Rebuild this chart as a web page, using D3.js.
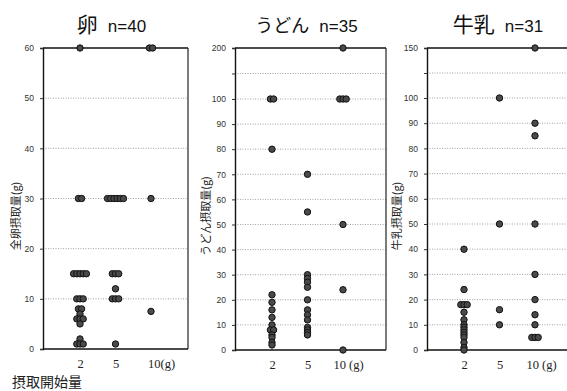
<!DOCTYPE html>
<html>
<head>
<meta charset="utf-8">
<script src="https://cdn.jsdelivr.net/npm/d3@7"></script>
<style>
  body { margin: 0; background: #fff; }
  svg { font-family: "Noto Sans CJK JP", "Noto Sans", sans-serif; }
</style>
</head>
<body>
<svg id="chart" width="567" height="391"></svg>
<script>
const categories = ["2", "5", "10"];

// 卵 n=40
const eggValues = [
  [60, 30, 30, 15, 15, 15, 15, 15, 10, 10, 10, 8, 8, 7, 6, 6, 6, 5, 2, 1, 1, 1],
  [30, 30, 30, 30, 30, 30, 15, 15, 15, 12, 10, 10, 10, 1],
  [60, 60, 30, 7.5]
];
const eggTicks = [0, 10, 20, 30, 40, 50, 60];

// うどん n=35
const udonValues = [
  [100, 100, 80, 22, 19, 16, 13, 10, 8, 8, 6, 5, 3, 2],
  [70, 55, 30, 28.5, 27, 25, 20, 16, 14, 12, 9, 8, 7, 6],
  [200, 100, 100, 100, 50, 24, 0]
];
const udonTicks = [0, 10, 20, 30, 40, 50, 60, 70, 80, 90, 100, 150, 200];

// 牛乳 n=31
const milkValues = [
  [40, 24, 18, 18, 18, 15, 12, 10, 9, 8, 7, 6, 5, 3, 1, 0],
  [100, 50, 16, 10],
  [150, 90, 85, 50, 30, 20, 14, 10, 5, 5, 5]
];
const milkTicks = [0, 10, 20, 30, 40, 50, 60, 70, 80, 90, 100, 125, 150];

const svg = d3.select("#chart");

const panels = [
  { title: "卵", titleSize: 21, n: "n=40", values: eggValues, ticks: eggTicks, hidden: [],
    domain: [0, 60], range: [349, 48], left: 43, width: 145,
    ylabel: "全卵摂取量(g)", ylabelX: 16, lastLabel: "10(g)", lastDx: 10 },
  { title: "うどん", titleSize: 18, n: "n=35", values: udonValues, ticks: udonTicks, hidden: [150],
    domain: [0, 100, 200], range: [350, 99, 48], left: 235, width: 151,
    ylabel: "うどん摂取量(g)", ylabelX: 206, lastLabel: "10 (g)", lastDx: 5 },
  { title: "牛乳", titleSize: 21, n: "n=31", values: milkValues, ticks: milkTicks, hidden: [125],
    domain: [0, 100, 150], range: [350, 98, 48], left: 427, width: 150,
    ylabel: "牛乳摂取量(g)", ylabelX: 397, lastLabel: "10 (g)", lastDx: 6 }
];

panels.forEach(p => {
  const right = p.left + p.width;
  const y = d3.scaleLinear().domain(p.domain).range(p.range);
  const x = d3.scalePoint().domain(categories).range([p.left + 37, p.left + 108]);
  const yTop = y(p.domain[p.domain.length - 1]);
  const yBottom = y(0);
  const g = svg.append("g");

  // grid
  g.append("g").selectAll("line")
    .data(p.ticks.filter(t => t > 0 && t < p.domain[p.domain.length - 1]))
    .join("line")
    .attr("x1", p.left).attr("x2", right)
    .attr("y1", d => y(d)).attr("y2", d => y(d))
    .attr("stroke", "#8a8a8a")
    .attr("stroke-width", 0.8)
    .attr("stroke-dasharray", "1,1.5");

  // frame: top and right
  g.append("line")
    .attr("x1", p.left).attr("x2", right)
    .attr("y1", yTop).attr("y2", yTop)
    .attr("stroke", "#111").attr("stroke-width", 1.4);
  g.append("line")
    .attr("x1", right).attr("x2", right)
    .attr("y1", yTop).attr("y2", yBottom)
    .attr("stroke", "#222").attr("stroke-width", 1.2);

  // y axis
  const yAxis = g.append("g")
    .attr("transform", `translate(${p.left},0)`)
    .call(d3.axisLeft(y).tickValues(p.ticks).tickSize(3).tickPadding(6)
      .tickFormat(d => p.hidden.includes(d) ? "" : d));
  yAxis.select(".domain").attr("stroke", "#111").attr("stroke-width", 1.4);
  yAxis.selectAll(".tick line").attr("stroke", "#333");
  yAxis.selectAll(".tick text")
    .attr("fill", "#333")
    .attr("font-size", 8.5)
    .attr("font-family", "Liberation Sans, Arial, sans-serif");

  // x axis
  const xAxis = g.append("g")
    .attr("transform", `translate(0,${yBottom})`)
    .call(d3.axisBottom(x).tickSize(0).tickPadding(10)
      .tickFormat(d => d === "10" ? p.lastLabel : d));
  xAxis.select(".domain").attr("d", `M${p.left},0H${right}`)
    .attr("stroke", "#111").attr("stroke-width", 1.4);
  xAxis.selectAll(".tick text")
    .attr("fill", "#222")
    .attr("font-size", 12.5)
    .attr("font-family", "Liberation Serif, serif")
    .attr("dx", d => d === "10" ? p.lastDx : 0);

  // points with side-by-side offsets for ties
  const pts = [];
  p.values.forEach((vals, ci) => {
    const counts = d3.rollup(vals, v => v.length, v => v);
    const seen = new Map();
    vals.forEach(v => {
      const n = counts.get(v);
      const i = seen.get(v) || 0;
      seen.set(v, i + 1);
      pts.push({ cat: categories[ci], value: v, off: (i - (n - 1) / 2) * 3.2 });
    });
  });
  g.append("g").selectAll("circle")
    .data(pts)
    .join("circle")
    .attr("cx", d => x(d.cat) + d.off)
    .attr("cy", d => y(d.value))
    .attr("r", 3.2)
    .attr("fill", "#4a4a4a")
    .attr("stroke", "#111")
    .attr("stroke-width", 1);

  // title
  const cx = p.left + p.width / 2 - 4;
  const t = g.append("text")
    .attr("x", cx).attr("y", 32)
    .attr("text-anchor", "middle")
    .attr("fill", "#111");
  t.append("tspan").attr("font-size", p.titleSize).text(p.title);
  t.append("tspan").attr("font-size", 17).attr("dx", 10)
    .attr("font-family", "Liberation Sans, Arial, sans-serif").text(p.n);

  // y label
  g.append("text")
    .attr("transform", `translate(${p.ylabelX + 4},${216}) rotate(-90)`)
    .attr("text-anchor", "middle")
    .attr("font-size", 11)
    .attr("fill", "#222")
    .text(p.ylabel);
});

svg.append("text")
  .attr("x", 12).attr("y", 387)
  .attr("font-size", 14)
  .attr("fill", "#222")
  .text("摂取開始量");
</script>
</body>
</html>
